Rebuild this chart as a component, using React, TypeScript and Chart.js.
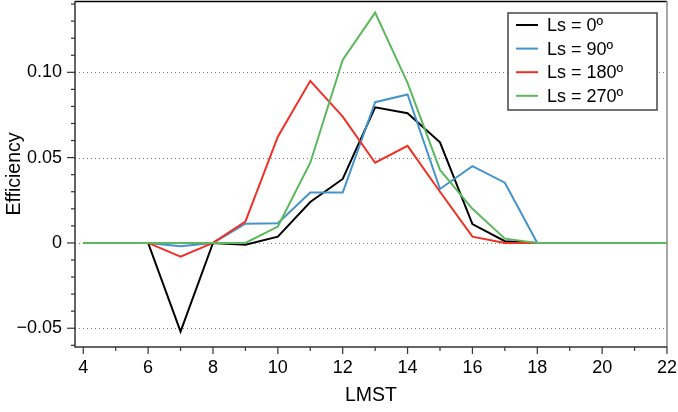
import React, { useEffect, useRef } from "react";
import { Chart, registerables } from "chart.js";

Chart.register(...registerables);

const hours = [4, 5, 6, 7, 8, 9, 10, 11, 12, 13, 14, 15, 16, 17, 18, 19, 20, 21, 22];
const ls0 = [0, 0, 0, -0.052, 0, -0.001, 0.0037, 0.024, 0.0375, 0.0795, 0.076, 0.059, 0.011, 0.001, 0, 0, 0, 0, 0];
const ls90 = [0, 0, 0, -0.002, 0, 0.0113, 0.0115, 0.0295, 0.0295, 0.0825, 0.087, 0.0316, 0.045, 0.0353, 0, 0, 0, 0, 0];
const ls180 = [0, 0, 0, -0.008, 0, 0.0125, 0.0623, 0.095, 0.074, 0.047, 0.0569, 0.03, 0.0037, 0, 0, 0, 0, 0, 0];
const ls270 = [0, 0, 0, 0, 0, 0, 0.0096, 0.047, 0.1073, 0.135, 0.0938, 0.0428, 0.02, 0.0025, 0, 0, 0, 0, 0];
const seriesLabels = ["Ls = 0º", "Ls = 90º", "Ls = 180º", "Ls = 270º"];
const seriesColors = ["#000000", "#4494cb", "#ee3124", "#5cb85c"];
const xTicks = [4, 5, 6, 7, 8, 9, 10, 11, 12, 13, 14, 15, 16, 17, 18, 19, 20, 21, 22];
const yMajor = [-0.05, 0, 0.05, 0.1];
const yMinor = [-0.06, -0.05, -0.04, -0.03, -0.02, -0.01, 0, 0.01, 0.02, 0.03, 0.04, 0.05, 0.06, 0.07, 0.08, 0.09, 0.1, 0.11, 0.12, 0.13, 0.14];

const FONT = "'Liberation Sans', Arial, Helvetica, sans-serif";

const decor = {
  id: "decor",
  beforeDatasetsDraw(chart: any) {
    const { ctx, chartArea: a, scales } = chart;
    const y = scales.y;
    ctx.save();
    ctx.strokeStyle = "#777";
    ctx.lineWidth = 1;
    ctx.setLineDash([1, 3]);
    yMajor.forEach((v) => {
      const py = Math.round(y.getPixelForValue(v)) + 0.5;
      ctx.beginPath();
      ctx.moveTo(a.left, py);
      ctx.lineTo(a.right, py);
      ctx.stroke();
    });
    ctx.restore();
  },
  afterDraw(chart: any) {
    const { ctx, chartArea: a, scales } = chart;
    const x = scales.x;
    const y = scales.y;
    ctx.save();
    // frame
    ctx.lineWidth = 1.5;
    ctx.strokeStyle = "#000";
    ctx.beginPath();
    ctx.moveTo(a.left, a.top + 0.5);
    ctx.lineTo(a.right, a.top + 0.5);
    ctx.stroke();
    ctx.strokeStyle = "#888";
    ctx.beginPath();
    ctx.moveTo(a.right, a.top);
    ctx.lineTo(a.right, a.bottom);
    ctx.stroke();
    ctx.strokeStyle = "#333";
    ctx.beginPath();
    ctx.moveTo(a.left, a.top);
    ctx.lineTo(a.left, a.bottom);
    ctx.lineTo(a.right, a.bottom);
    ctx.stroke();
    // ticks
    ctx.lineWidth = 1.2;
    xTicks.forEach((v) => {
      const px = x.getPixelForValue(v);
      const len = v % 2 === 0 ? 7 : 4;
      ctx.beginPath();
      ctx.moveTo(px, a.bottom);
      ctx.lineTo(px, a.bottom + len);
      ctx.stroke();
    });
    yMinor.forEach((v) => {
      const py = y.getPixelForValue(v);
      const major = yMajor.some((m) => Math.abs(m - v) < 1e-9);
      const len = major ? 8 : 4;
      ctx.beginPath();
      ctx.moveTo(a.left, py);
      ctx.lineTo(a.left - len, py);
      ctx.stroke();
    });
    // legend
    const bx = 508, by = 13, bw = 149, bh = 97;
    ctx.fillStyle = "#fff";
    ctx.fillRect(bx, by, bw, bh);
    ctx.strokeStyle = "#444";
    ctx.lineWidth = 1.5;
    ctx.strokeRect(bx, by, bw, bh);
    ctx.font = `18px ${FONT}`;
    ctx.textBaseline = "middle";
    chart.data.datasets.forEach((ds: any, i: number) => {
      const ry = 25 + i * 23.6;
      ctx.strokeStyle = ds.borderColor;
      ctx.lineWidth = 2;
      ctx.beginPath();
      ctx.moveTo(516, ry);
      ctx.lineTo(538, ry);
      ctx.stroke();
      ctx.fillStyle = "#000";
      ctx.fillText(ds.label, 547, ry + 1);
    });
    ctx.restore();
  },
};

export default function App() {
  const ref = useRef<HTMLCanvasElement>(null);
  useEffect(() => {
    document.body.style.margin = "0";
    const series = [ls0, ls90, ls180, ls270];
    const chart = new Chart(ref.current!, {
      type: "line",
      data: {
        datasets: series.map((s, i) => ({
          label: seriesLabels[i],
          data: hours.map((h, j) => ({ x: h, y: s[j] })),
          borderColor: seriesColors[i],
          backgroundColor: seriesColors[i],
          borderWidth: 2,
          pointRadius: 0,
          tension: 0,
          order: 4 - i,
        })),
      },
      options: {
        responsive: false,
        animation: false,
        layout: { padding: { top: 1, right: 11, left: 0, bottom: 0 } },
        plugins: { legend: { display: false }, tooltip: { enabled: false } },
        scales: {
          x: {
            type: "linear",
            min: 3.745,
            max: 22,
            afterBuildTicks: (s: any) => {
              s.ticks = xTicks.map((v) => ({ value: v }));
            },
            afterFit: (s: any) => {
              s.height = 65;
              s.paddingLeft = 0;
              s.paddingRight = 0;
            },
            grid: { display: false, drawTicks: false },
            border: { display: false },
            ticks: {
              autoSkip: false,
              maxRotation: 0,
              padding: 10,
              color: "#000",
              font: { family: FONT, size: 18 },
              callback: (v: any) => (Number(v) % 2 === 0 ? String(v) : ""),
            },
            title: {
              display: true,
              text: "LMST",
              color: "#000",
              font: { family: FONT, size: 19.5 },
              padding: { top: 0, bottom: 5 },
            },
          },
          y: {
            type: "linear",
            min: -0.061,
            max: 0.1418,
            afterBuildTicks: (s: any) => {
              s.ticks = yMajor.map((v) => ({ value: v }));
            },
            afterFit: (s: any) => {
              s.width = 75;
              s.paddingTop = 0;
              s.paddingBottom = 0;
            },
            grid: { display: false, drawTicks: false },
            border: { display: false },
            ticks: {
              padding: 13,
              color: "#000",
              font: { family: FONT, size: 18 },
              callback: (v: any) => {
                const n = Number(v);
                if (Math.abs(n) < 1e-9) return "0";
                const s = n.toFixed(2);
                return n < 0 ? "\u2212" + s.slice(1) : s;
              },
            },
            title: {
              display: true,
              text: "Efficiency",
              color: "#000",
              font: { family: FONT, size: 19.5 },
              padding: { top: 3, bottom: 0 },
            },
          },
        },
      },
      plugins: [decor],
    });
    return () => chart.destroy();
  }, []);
  return (
    <div style={{ width: 678, height: 412 }}>
      <canvas ref={ref} width={678} height={412} style={{ display: "block" }} />
    </div>
  );
}
